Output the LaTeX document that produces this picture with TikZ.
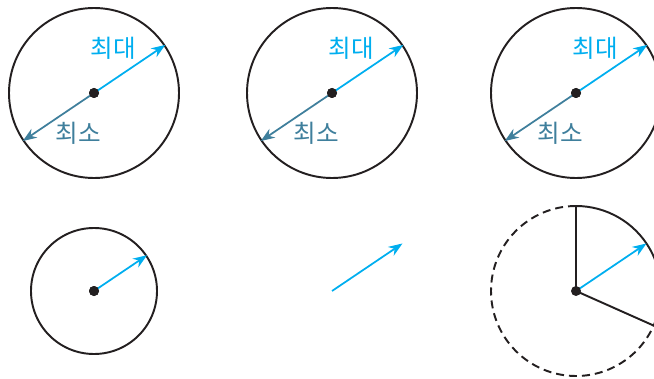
\documentclass[tikz,border=0pt]{standalone}
\usepackage{fontspec}
\newfontfamily\kofont{Noto Sans CJK KR}
\usetikzlibrary{positioning, arrows.meta, calc}
\definecolor{lineDark}{HTML}{231F20}
\definecolor{maxColor}{HTML}{00AEEF}
\definecolor{minColor}{HTML}{3F7F9C}
\tikzset{
  ring/.style={circle, draw=lineDark, line width=1.1pt, inner sep=0pt},
  dashring/.style={draw=lineDark, line width=1.1pt, dash pattern=on 0.16cm off 0.1cm},
  sector/.style={draw=lineDark, line width=1.1pt, line join=round},
  centerdot/.style={circle, fill=lineDark, inner sep=0pt, minimum size=0.2cm},
  maxarrow/.style={-{Stealth[length=2.8mm, width=2.1mm, inset=0.9mm]}, line width=1pt, color=maxColor},
  minarrow/.style={-{Stealth[length=2.8mm, width=2.1mm, inset=0.9mm]}, line width=1pt, color=minColor},
  maxlabel/.style={font=\kofont\fontsize{14}{16}\selectfont, text=maxColor, inner sep=0pt},
  minlabel/.style={font=\kofont\fontsize{14}{16}\selectfont, text=minColor, inner sep=0pt},
}
\begin{document}
\begin{tikzpicture}

  \useasboundingbox (0,0) rectangle (13.08,7.56);
  \clip (0,0) rectangle (13.08,7.56);

  % === Top row: max / min radius ===
  \foreach \name/\cx in {A/1.88, B/6.64, C/11.52} {
    \node[ring, minimum size=3.4cm] (ring\name) at (\cx,5.70) {};
    \node[centerdot] (ctr\name) at (ring\name.center) {};
    \draw[maxarrow] (ctr\name.center) -- (ring\name.34);
    \draw[minarrow] (ctr\name.center) -- (ring\name.214);
    \node[centerdot] at (ctr\name) {};
    \node[maxlabel] (max\name) at ($(ctr\name)+(0.38,0.90)$) {최대};
    \node[minlabel] (min\name) at ($(ctr\name)+(-0.32,-0.80)$) {최소};
  }

  % === Bottom left: small circle ===
  \node[ring, minimum size=2.52cm] (ringD) at (1.88,1.74) {};
  \node[centerdot] (ctrD) at (ringD.center) {};
  \draw[maxarrow] (ctrD.center) -- (ringD.34);
  \node[centerdot] at (ctrD) {};

  % === Bottom middle: radius only ===
  \coordinate (ctrE) at (6.64,1.74);
  \coordinate (tipE) at ($(ctrE)+(34:1.7)$);
  \draw[maxarrow] (ctrE) -- (tipE);

  % === Bottom right: sector of dashed circle ===
  \coordinate (ctrF) at (11.52,1.74);
  \draw[dashring] ($(ctrF)+(90:1.7)$) arc[start angle=90, end angle=336, radius=1.7];
  \draw[sector] (ctrF) -- ($(ctrF)+(90:1.7)$) arc[start angle=90, end angle=-24, radius=1.7] -- cycle;
  \coordinate (tipF) at ($(ctrF)+(34:1.7)$);
  \draw[maxarrow] (ctrF) -- (tipF);
  \node[centerdot] (dotF) at (ctrF) {};

\end{tikzpicture}
\end{document}
